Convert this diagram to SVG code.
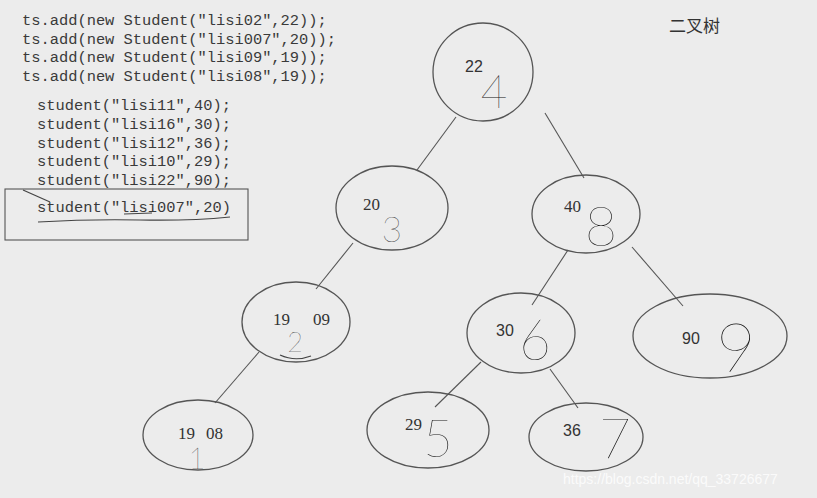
<svg xmlns="http://www.w3.org/2000/svg" width="817" height="498" viewBox="0 0 817 498">
<style>
.code{font-family:"Liberation Mono",monospace;font-size:15.4px;fill:#3a3a3a}
.node ellipse{fill:none;stroke:#555;stroke-width:1.3}
.lab{font-family:"Liberation Serif",serif;font-size:17px;fill:#333}
.labs{font-family:"Liberation Sans",sans-serif;font-size:16px;fill:#333}
.hw{font-family:"Lato","Open Sans",sans-serif;font-weight:100;fill:#111;text-anchor:middle}
.edge line{stroke:#555;stroke-width:1.1}
.mark{fill:none;stroke:#444;stroke-width:1.2}
</style>
<rect width="817" height="498" fill="#ececec"/>
<g id="code">
<text class="code" x="22" y="25">ts.add(new Student("lisi02",22));</text>
<text class="code" x="22" y="43.5">ts.add(new Student("lisi007",20));</text>
<text class="code" x="22" y="62">ts.add(new Student("lisi09",19));</text>
<text class="code" x="22" y="80.5">ts.add(new Student("lisi08",19));</text>
<text class="code" x="37" y="110">student("lisi11",40);</text>
<text class="code" x="37" y="129">student("lisi16",30);</text>
<text class="code" x="37" y="147.5">student("lisi12",36);</text>
<text class="code" x="37" y="166">student("lisi10",29);</text>
<text class="code" x="37" y="184.5">student("lisi22",90);</text>
<text class="code" x="37" y="212">student("lisi007",20)</text>
<rect x="5" y="189" width="243" height="51" fill="none" stroke="#555" stroke-width="1.1"/>
<path class="mark" d="M23 190 L50 202"/>
<path class="mark" d="M38 222 Q90 219 140 220 T230 217"/>
<path class="mark" d="M124 214 L152 213"/>
</g>
<text id="title" x="669" y="32" font-family="Noto Sans CJK SC, sans-serif" font-size="17" fill="#333">二叉树</text>
<g id="connectors" class="edge">
<line x1="456" y1="117" x2="417" y2="170"/>
<line x1="545" y1="113" x2="584" y2="178"/>
<line x1="353" y1="243" x2="316" y2="289"/>
<line x1="259" y1="352" x2="215" y2="403"/>
<line x1="568" y1="250" x2="532" y2="305"/>
<line x1="632" y1="247" x2="683" y2="306"/>
<line x1="481" y1="362" x2="435" y2="407"/>
<line x1="550" y1="369" x2="578" y2="408"/>
</g>
<g id="n22" class="node">
<ellipse cx="483" cy="72" rx="50" ry="49"/>
<text class="labs" x="465" y="72">22</text>
<text class="hw" x="494" y="108" font-size="46">4</text>
</g>
<g id="n20" class="node">
<ellipse cx="392" cy="208" rx="56" ry="42"/>
<text class="lab" x="363" y="210">20</text>
<text class="hw" x="392" y="242" font-size="35">3</text>
</g>
<g id="n40" class="node">
<ellipse cx="586" cy="214" rx="54" ry="39"/>
<text class="lab" x="564" y="212">40</text>
<text class="hw" x="601" y="246" font-size="56">8</text>
</g>
<g id="n19_09" class="node">
<ellipse cx="296" cy="322" rx="54" ry="40"/>
<text class="lab" x="273" y="325">19</text>
<text class="lab" x="313" y="325">09</text>
<text class="hw" x="295" y="352" font-size="27">2</text>
<path class="mark" d="M280 355 Q295 362 311 356"/>
</g>
<g id="n30" class="node">
<ellipse cx="521" cy="333" rx="54" ry="40"/>
<text class="labs" x="496" y="336">30</text>
<text class="hw" x="535" y="360" font-size="55">6</text>
</g>
<g id="n90" class="node">
<ellipse cx="710" cy="336" rx="77" ry="42"/>
<text class="labs" x="682" y="344">90</text>
<text class="hw" x="736" y="372" font-size="69">9</text>
</g>
<g id="n19_08" class="node">
<ellipse cx="198" cy="435" rx="55" ry="35"/>
<text class="lab" x="178" y="439">19</text>
<text class="lab" x="206" y="439">08</text>
<text class="hw" x="197" y="469" font-size="30">1</text>
</g>
<g id="n29" class="node">
<ellipse cx="428" cy="430" rx="61" ry="38"/>
<text class="lab" x="405" y="430">29</text>
<text class="hw" x="438" y="457" font-size="51">5</text>
</g>
<g id="n36" class="node">
<ellipse cx="586" cy="437" rx="57" ry="34"/>
<text class="labs" x="563" y="436">36</text>
<text class="hw" x="615" y="458" font-size="55">7</text>
</g>
<text id="watermark" x="563" y="484" font-family="Liberation Sans, sans-serif" font-size="14" fill="#ffffff" fill-opacity="0.8">https://blog.csdn.net/qq_33726677</text>
</svg>
